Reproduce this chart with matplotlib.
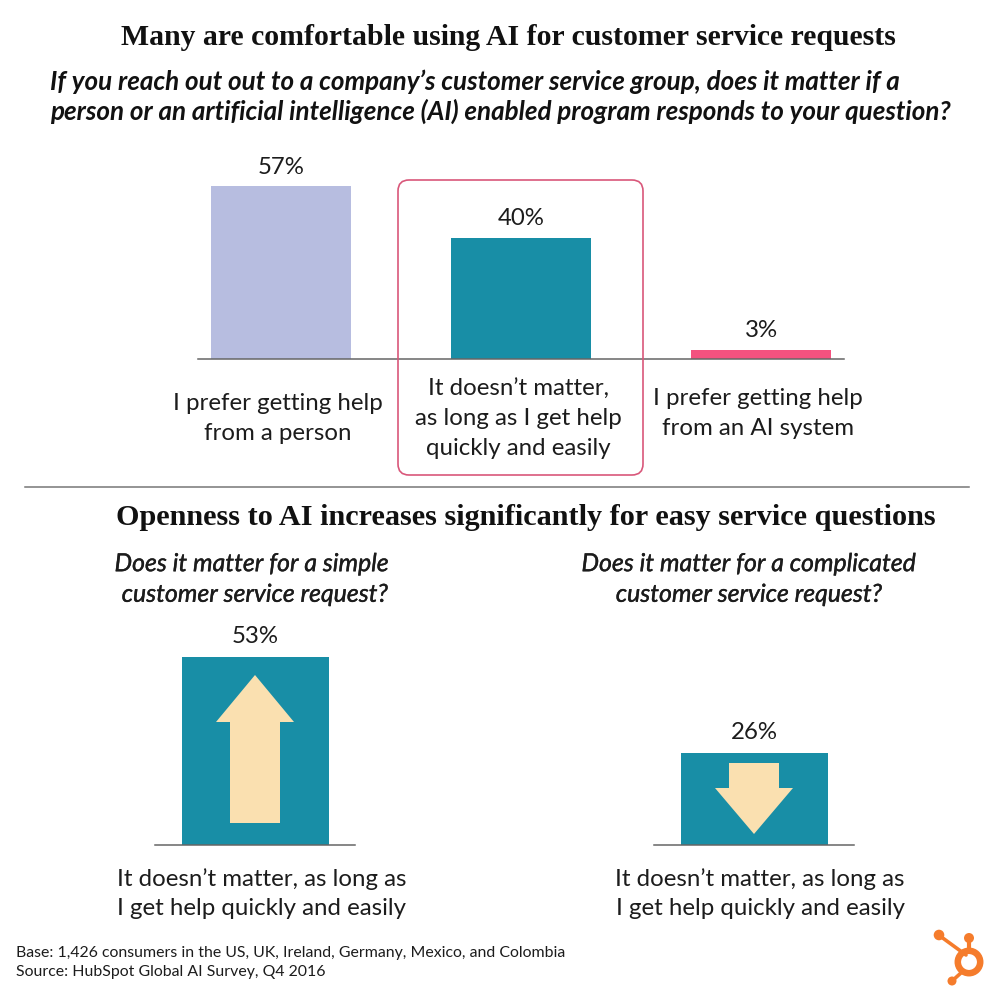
import matplotlib
matplotlib.use("Agg")
import matplotlib.pyplot as plt
from matplotlib.patches import FancyBboxPatch, Polygon, Circle
import matplotlib.patheffects as pe

plt.rcParams['font.family'] = ['Lato', 'DejaVu Sans']

W, H = 1000, 995
TEAL = "#188ea6"
CREAM = "#fae0b0"
ORANGE = "#f57c2c"
INK = "#1c1c1c"

# data
top_labels = ["I prefer getting help\nfrom a person",
              "It doesn\u2019t matter,\nas long as I get help\nquickly and easily",
              "I prefer getting help\nfrom an AI system"]
top_values = [57, 40, 3]
top_colors = ["#b7bde0", TEAL, "#f4527f"]
simple_value = [53]
complicated_value = [26]
bottom_label = "It doesn\u2019t matter, as long as\nI get help quickly and easily"

# thin outline because Lato has no medium italic here
medium = [pe.withStroke(linewidth=0.25, foreground=INK)]


def px_axes(left, right, top, bottom):
    return fig.add_axes([left / W, 1 - bottom / H, (right - left) / W, (bottom - top) / H])


def bar_panel(ax, values, colors, width, ymax):
    bars = ax.bar(range(len(values)), values, width=width, color=colors)
    for b, v in zip(bars, values):
        ax.text(b.get_x() + b.get_width() / 2, v + ymax * 0.045, f"{v}%", ha="center",
                va="bottom", fontsize=17.3, color=INK)
    ax.set_ylim(0, ymax)
    ax.set_yticks([])
    ax.set_xticks([])
    for s in ["top", "left", "right"]:
        ax.spines[s].set_visible(False)
    ax.spines["bottom"].set_color("#666666")
    ax.spines["bottom"].set_linewidth(1.1)
    ax.patch.set_alpha(0)


fig = plt.figure(figsize=(W / 100, H / 100), dpi=100, facecolor="white")

# top chart: 3.035 px per percent, 240 px between bars
top_ax = px_axes(198, 844, 151, 360)
top_ax.set_xlim(-83 / 240, 2 + 83 / 240)
bar_panel(top_ax, top_values, top_colors, 140 / 240, 209 / 3.035)

# bottom charts: 3.55 px per percent
left_ax = px_axes(155, 355, 611, 846)
left_ax.set_xlim(-100 / 147, 100 / 147)
bar_panel(left_ax, simple_value, [TEAL], 1, 235 / 3.55)

right_ax = px_axes(654, 854, 611, 846)
right_ax.set_xlim(-100 / 147, 100 / 147)
bar_panel(right_ax, complicated_value, [TEAL], 1, 235 / 3.55)

# page overlay in pixel coordinates
over = fig.add_axes([0, 0, 1, 1], zorder=5)
over.set_xlim(0, W)
over.set_ylim(H - 1, -1)
over.axis("off")

# arrows
over.add_patch(Polygon([(255, 675), (294, 722), (280, 722), (280, 823), (230, 823),
                        (230, 722), (216, 722)], color=CREAM, lw=0))
over.add_patch(Polygon([(754, 834), (793, 788), (779, 788), (779, 763), (729, 763),
                        (729, 788), (715, 788)], color=CREAM, lw=0))

# highlight box and rule
over.add_patch(FancyBboxPatch((398, 180), 245, 295, boxstyle="round,pad=0,rounding_size=11",
                              fc="none", ec="#d9577a", lw=1.2))
over.plot([25, 969], [487, 487], color="#777777", lw=1.1)

# headings
serif = ["Liberation Serif"]
over.text(508, 37, "Many are comfortable using AI for customer service requests", family=serif,
          fontweight="bold", fontsize=21.4, ha="center", va="center", color="#111111")
over.text(526, 517, "Openness to AI increases significantly for easy service questions", family=serif,
          fontweight="bold", fontsize=21.8, ha="center", va="center", color="#111111")
over.text(50, 81, "If you reach out out to a company\u2019s customer service group, does it matter if a",
          fontsize=18.7, style="italic", fontweight="bold", va="center", color="#111111")
over.text(50, 110, "person or an artificial intelligence (AI) enabled program responds to your question?",
          fontsize=18.7, style="italic", fontweight="bold", va="center", color="#111111")
over.text(252, 579, "Does it matter for a simple\n customer service request?", fontsize=17.9,
          style="italic", ha="center", va="center", linespacing=1.4, color=INK, path_effects=medium)
over.text(749, 579, "Does it matter for a complicated\ncustomer service request?", fontsize=17.9,
          style="italic", ha="center", va="center", linespacing=1.4, color=INK, path_effects=medium)

# category labels
over.text(277.5, 417.5, top_labels[0], fontsize=17.3, ha="center", va="center", linespacing=1.5, color=INK)
over.text(518, 418, top_labels[1], fontsize=17.3, ha="center", va="center", linespacing=1.5, color=INK)
over.text(757.5, 412.5, top_labels[2], fontsize=17.3, ha="center", va="center", linespacing=1.5, color=INK)
over.text(261.5, 892.5, bottom_label, fontsize=17.3, ha="center", va="center", linespacing=1.5, color=INK)
over.text(760, 892.5, bottom_label, fontsize=17.3, ha="center", va="center", linespacing=1.5, color=INK)

# footnote
over.text(16, 952, "Base: 1,426 consumers in the US, UK, Ireland, Germany, Mexico, and Colombia",
          fontsize=11.45, va="center", color=INK)
over.text(16, 971, "Source: HubSpot Global AI Survey, Q4 2016", fontsize=11.45, va="center", color=INK)

# logo
over.plot([940, 966], [936, 955], color=ORANGE, lw=2.6, solid_capstyle="round")
over.plot([969, 969], [938, 950], color=ORANGE, lw=3, solid_capstyle="round")
over.plot([952, 962], [981, 972], color=ORANGE, lw=2.6, solid_capstyle="round")
over.add_patch(Circle((939, 935), 5.3, color=ORANGE, lw=0))
over.add_patch(Circle((969, 938), 5, color=ORANGE, lw=0))
over.add_patch(Circle((952, 981), 4.5, color=ORANGE, lw=0))
over.add_patch(Circle((969, 962), 11.2, fc="white", ec=ORANGE, lw=4.7))

fig.savefig("out.png", dpi=100)
